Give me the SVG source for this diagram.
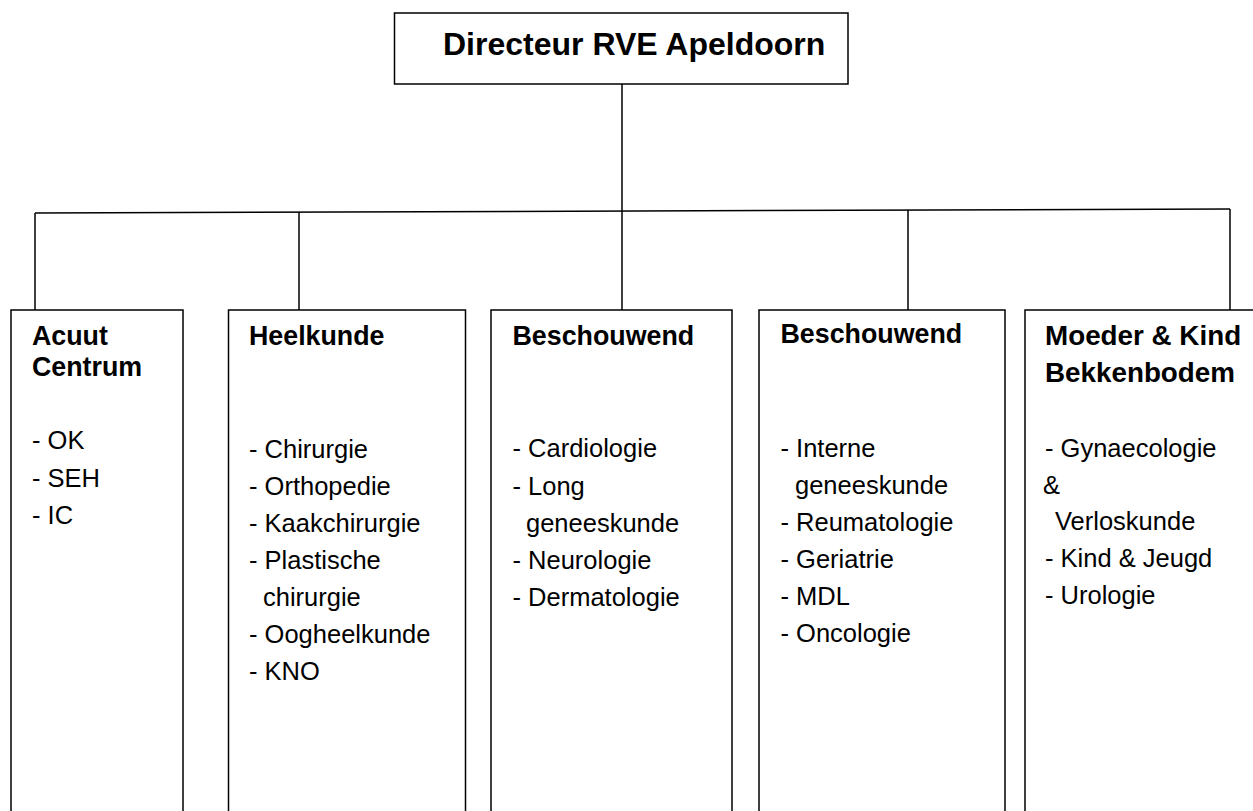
<svg xmlns="http://www.w3.org/2000/svg" width="1253" height="811" viewBox="0 0 1253 811">
  <style>
    .box { fill: #fff; stroke: #000; stroke-width: 1.5; }
    .wire { fill: none; stroke: #000; stroke-width: 1.5; }
    .title { font-family: "Liberation Sans", Arial, sans-serif; font-weight: bold; font-size: 32px; fill: #000; }
    .head { font-family: "Liberation Sans", Arial, sans-serif; font-weight: bold; font-size: 26.8px; fill: #000; }
    .head-wide { font-size: 27.8px; }
    .item { font-family: "Liberation Sans", Arial, sans-serif; font-size: 25.5px; fill: #000; }
  </style>
  <rect width="1253" height="811" fill="#fff"/>

  <!-- connectors -->
  <g id="connectors">
    <line class="wire" x1="622" y1="84" x2="622" y2="211"/>
    <line class="wire" x1="35" y1="213" x2="1230" y2="209"/>
    <line class="wire" x1="35" y1="213" x2="35" y2="310"/>
    <line class="wire" x1="299" y1="212" x2="299" y2="310"/>
    <line class="wire" x1="622" y1="211" x2="622" y2="310"/>
    <line class="wire" x1="908" y1="210" x2="908" y2="310"/>
    <line class="wire" x1="1230" y1="209" x2="1230" y2="310"/>
  </g>

  <!-- director -->
  <g id="director">
    <rect class="box" x="394.5" y="13" width="453.5" height="71"/>
    <text class="title" x="443" y="55">Directeur RVE Apeldoorn</text>
  </g>

  <!-- Acuut Centrum -->
  <g id="acuut-centrum">
    <rect class="box" x="11" y="310" width="172" height="520"/>
    <text class="head" x="32" y="345">Acuut</text>
    <text class="head" x="32" y="376">Centrum</text>
    <text class="item" x="32" y="449">- OK</text>
    <text class="item" x="32" y="487">- SEH</text>
    <text class="item" x="32" y="524">- IC</text>
  </g>

  <!-- Heelkunde -->
  <g id="heelkunde">
    <rect class="box" x="228.5" y="310" width="237" height="520"/>
    <text class="head" x="249" y="345">Heelkunde</text>
    <text class="item" x="249" y="457.5">- Chirurgie</text>
    <text class="item" x="249" y="494.5">- Orthopedie</text>
    <text class="item" x="249" y="531.5">- Kaakchirurgie</text>
    <text class="item" x="249" y="568.5">- Plastische</text>
    <text class="item" x="263" y="605.5">chirurgie</text>
    <text class="item" x="249" y="642.5">- Oogheelkunde</text>
    <text class="item" x="249" y="679.5">- KNO</text>
  </g>

  <!-- Beschouwend (1) -->
  <g id="beschouwend-1">
    <rect class="box" x="491" y="310" width="241" height="520"/>
    <text class="head" x="512.5" y="345">Beschouwend</text>
    <text class="item" x="512.5" y="457">- Cardiologie</text>
    <text class="item" x="512.5" y="494.5">- Long</text>
    <text class="item" x="526" y="531.5">geneeskunde</text>
    <text class="item" x="512.5" y="569">- Neurologie</text>
    <text class="item" x="512.5" y="606">- Dermatologie</text>
  </g>

  <!-- Beschouwend (2) -->
  <g id="beschouwend-2">
    <rect class="box" x="759" y="310" width="246" height="520"/>
    <text class="head" x="780.5" y="343">Beschouwend</text>
    <text class="item" x="780.5" y="457">- Interne</text>
    <text class="item" x="795" y="494">geneeskunde</text>
    <text class="item" x="780.5" y="531">- Reumatologie</text>
    <text class="item" x="780.5" y="568">- Geriatrie</text>
    <text class="item" x="780.5" y="605">- MDL</text>
    <text class="item" x="780.5" y="642">- Oncologie</text>
  </g>

  <!-- Moeder & Kind Bekkenbodem -->
  <g id="moeder-kind">
    <rect class="box" x="1025" y="310" width="240" height="520"/>
    <text class="head head-wide" x="1045" y="345">Moeder &amp; Kind</text>
    <text class="head head-wide" x="1045" y="382">Bekkenbodem</text>
    <text class="item" x="1045" y="457">- Gynaecologie</text>
    <text class="item" x="1043" y="494">&amp;</text>
    <text class="item" x="1055" y="530">Verloskunde</text>
    <text class="item" x="1045" y="567">- Kind &amp; Jeugd</text>
    <text class="item" x="1045" y="603.5">- Urologie</text>
  </g>
</svg>
